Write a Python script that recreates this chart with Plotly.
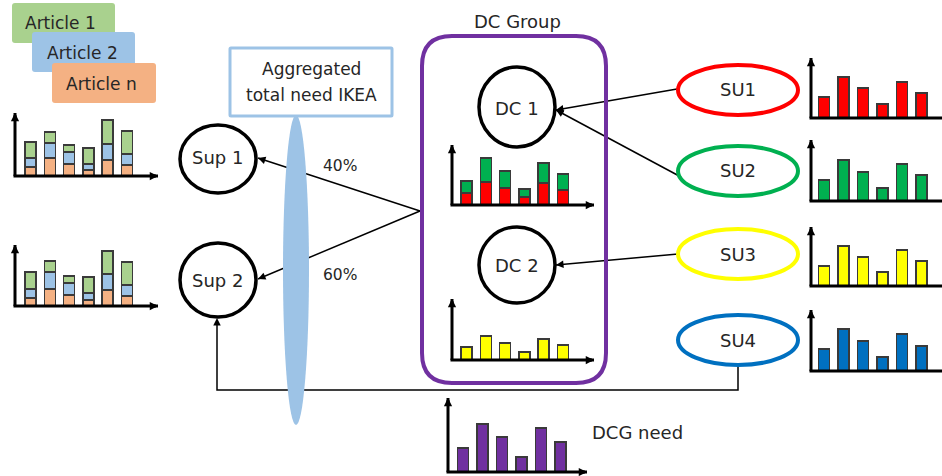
import plotly.graph_objects as go

W, H = 942, 476

# ---- demand series (bar heights, arbitrary units) ----
periods = ["P1", "P2", "P3", "P4", "P5", "P6"]

sup1_art_n = [9, 18, 12, 6, 16, 11]
sup1_art_2 = [9, 15, 12, 6, 16, 11]
sup1_art_1 = [16, 11, 7, 16, 24, 23]

sup2_art_n = [8, 17, 11, 6, 16, 10]
sup2_art_2 = [9, 17, 12, 7, 16, 11]
sup2_art_1 = [17, 11, 7, 16, 23, 23]

dc1_from_su1 = [12, 23, 17, 8, 22, 15]
dc1_from_su2 = [12, 24, 17, 8, 20, 16]
dc2_from_su3 = [13, 24, 17, 8, 21, 15]

su1_need = [21, 41, 30, 14, 36, 25]
su2_need = [21, 41, 29, 13, 37, 26]
su3_need = [20, 40, 29, 14, 36, 25]
su4_need = [22, 42, 30, 14, 37, 25]

dcg_need = [24, 48, 35, 15, 44, 30]

# ---- colours ----
C_ART1, C_ART2, C_ARTN = "#a9d18e", "#9dc3e6", "#f4b183"
C_RED, C_GREEN, C_YELLOW, C_BLUE = "#ff0000", "#00b050", "#ffff00", "#0070c0"
C_PURPLE = "#7030a0"
C_TEXT = "#262626"
FONT = "DejaVu Sans"

# ---- mini chart panels: axis origin, arrow tips, first bar centre, bar step ----
panels = {
    "sup1": dict(ox=15, oy=176, top=113, end=158, c0=30.5, step=19.3),
    "sup2": dict(ox=15, oy=306, top=245, end=158, c0=30.5, step=19.3),
    "dc1": dict(ox=452, oy=205, top=145, end=594, c0=466.5, step=19.3),
    "dc2": dict(ox=452, oy=360, top=299, end=594, c0=466.5, step=19.3),
    "su1": dict(ox=811, oy=118, top=58, end=942, c0=824, step=19.5),
    "su2": dict(ox=811, oy=201, top=140, end=942, c0=824, step=19.5),
    "su3": dict(ox=811, oy=286, top=227, end=942, c0=824, step=19.5),
    "su4": dict(ox=811, oy=371, top=310, end=942, c0=824, step=19.5),
    "dcg": dict(ox=448, oy=472, top=398, end=587, c0=463, step=19.5),
}
BAR_W = 11

panel_series = {
    "sup1": [(sup1_art_n, C_ARTN), (sup1_art_2, C_ART2), (sup1_art_1, C_ART1)],
    "sup2": [(sup2_art_n, C_ARTN), (sup2_art_2, C_ART2), (sup2_art_1, C_ART1)],
    "dc1": [(dc1_from_su1, C_RED), (dc1_from_su2, C_GREEN)],
    "dc2": [(dc2_from_su3, C_YELLOW)],
    "su1": [(su1_need, C_RED)],
    "su2": [(su2_need, C_GREEN)],
    "su3": [(su3_need, C_YELLOW)],
    "su4": [(su4_need, C_BLUE)],
    "dcg": [(dcg_need, C_PURPLE)],
}

fig = go.Figure()
layout = dict(
    width=W, height=H,
    margin=dict(l=0, r=0, t=0, b=0),
    paper_bgcolor="white", plot_bgcolor="rgba(0,0,0,0)",
    showlegend=False, barmode="stack",
    xaxis=dict(range=[0, W], domain=[0, 1], visible=False, fixedrange=True),
    yaxis=dict(range=[H, 0], domain=[0, 1], visible=False, fixedrange=True),
)

shapes = []
annotations = []


def line(x0, y0, x1, y1, width=1.5, color="black"):
    shapes.append(dict(type="line", xref="x", yref="y", x0=x0, y0=y0, x1=x1, y1=y1,
                       line=dict(color=color, width=width)))


def head(x, y, fx, fy, width=1.5, size=1.0):
    # arrowhead at (x, y), coming from direction of (fx, fy)
    dx, dy = fx - x, fy - y
    n = (dx * dx + dy * dy) ** 0.5
    ax, ay = x + dx / n * 6, y + dy / n * 6
    annotations.append(dict(x=x, y=y, ax=ax, ay=ay, xref="x", yref="y", axref="x", ayref="y",
                            text="", showarrow=True, arrowhead=2, arrowsize=size,
                            arrowwidth=width, arrowcolor="black", standoff=0, startstandoff=0))


def arrow(x0, y0, x1, y1, width=1.5, size=1.0):
    line(x0, y0, x1, y1, width)
    head(x1, y1, x0, y0, width, size)


def text(x, y, s, size=17, color=C_TEXT):
    annotations.append(dict(x=x, y=y, xref="x", yref="y", text=s, showarrow=False,
                            font=dict(family=FONT, size=size, color=color),
                            xanchor="center", yanchor="middle"))


def ellipse(cx, cy, rx, ry, color, width, fill="rgba(0,0,0,0)"):
    shapes.append(dict(type="circle", xref="x", yref="y", x0=cx - rx, x1=cx + rx,
                       y0=cy - ry, y1=cy + ry, line=dict(color=color, width=width),
                       fillcolor=fill))


def rounded_rect(x0, y0, x1, y1, r, color, width, fill="rgba(0,0,0,0)"):
    p = (f"M{x0 + r},{y0} L{x1 - r},{y0} Q{x1},{y0} {x1},{y0 + r} "
         f"L{x1},{y1 - r} Q{x1},{y1} {x1 - r},{y1} L{x0 + r},{y1} Q{x0},{y1} {x0},{y1 - r} "
         f"L{x0},{y0 + r} Q{x0},{y0} {x0 + r},{y0} Z")
    shapes.append(dict(type="path", xref="x", yref="y", path=p,
                       line=dict(color=color, width=width), fillcolor=fill))


# ---- mini bar charts ----
for i, (name, p) in enumerate(panels.items(), start=2):
    xa, ya = f"xaxis{i}", f"yaxis{i}"
    layout[xa] = dict(domain=[p["ox"] / W, p["end"] / W], anchor=f"y{i}", visible=False,
                      range=[(p["ox"] - p["c0"]) / p["step"], (p["end"] - p["c0"]) / p["step"]],
                      fixedrange=True)
    layout[ya] = dict(domain=[1 - p["oy"] / H, 1 - p["top"] / H], anchor=f"x{i}", visible=False,
                      range=[0, p["oy"] - p["top"]], fixedrange=True)
    for vals, col in panel_series[name]:
        fig.add_trace(go.Bar(x=list(range(len(periods))), y=vals, width=BAR_W / p["step"],
                             marker=dict(color=col, line=dict(color="#3a3a3a", width=1.5)),
                             xaxis=f"x{i}", yaxis=f"y{i}", hoverinfo="skip"))
    # axes with arrow tips
    arrow(p["ox"], p["oy"], p["ox"], p["top"], width=3, size=0.55)
    if p["end"] < W:
        arrow(p["ox"] - 1.5, p["oy"], p["end"], p["oy"], width=3, size=0.55)
    else:
        line(p["ox"] - 1.5, p["oy"], p["end"], p["oy"], width=3)

# ---- article legend boxes ----
rounded_rect(12, 3, 115, 43, 3, C_ART1, 0, C_ART1)
rounded_rect(32, 32, 135, 72, 3, C_ART2, 0, C_ART2)
rounded_rect(52, 63, 156, 103, 3, C_ARTN, 0, C_ARTN)
text(60, 23, "Article 1")
text(82, 53, "Article 2")
text(101, 84, "Article n")

# ---- flows ----
# DC group to suppliers
line(420, 211, 258, 158)
line(420, 211, 258, 279)
# feedback loop from SU4 to Sup 2
shapes.append(dict(type="path", xref="x", yref="y",
                   path="M738,366 L738,390 L217,390 L217,320",
                   line=dict(color="black", width=1.5)))

# aggregation lens drawn over the flow lines
ellipse(296, 270, 13, 155, C_ART2, 0, C_ART2)

head(258, 158, 420, 211)
head(258, 279, 420, 211)
head(217, 318, 217, 340)

# SUs to DCs
arrow(677, 89, 556, 110)
arrow(681, 177, 556, 110)
arrow(678, 254, 556, 265)

# ---- nodes ----
rounded_rect(230, 48, 392, 116, 1, C_ART2, 3, "white")
text(311, 69, "Aggregated")
text(311, 95, "total need IKEA")

ellipse(218, 159, 38, 34, "black", 3.5)
ellipse(218, 280, 38, 37, "black", 3.5)
text(217, 157, "Sup 1", 18)
text(217, 280, "Sup 2", 18)
text(340, 166, "40%", 15.5)
text(340, 275, "60%", 15.5)

rounded_rect(422, 36, 606, 383, 30, C_PURPLE, 4)
text(517, 21, "DC Group", 18)
ellipse(517, 107, 38, 40, "black", 3.5)
ellipse(517, 265, 38, 38, "black", 3.5)
text(517, 108, "DC 1", 18)
text(517, 265, "DC 2", 18)

ellipse(738, 90, 60, 25, C_RED, 4)
ellipse(738, 171, 60, 25, C_GREEN, 4)
ellipse(738, 254, 60, 25, C_YELLOW, 4)
ellipse(738, 340, 60, 25, C_BLUE, 4)
text(738, 89, "SU1", 18)
text(738, 170, "SU2", 18)
text(738, 254, "SU3", 18)
text(738, 340, "SU4", 18)

text(637, 432, "DCG need", 18)

layout["shapes"] = shapes
layout["annotations"] = annotations
fig.update_layout(**layout)
fig.write_html("out.html", config={"displayModeBar": False})
